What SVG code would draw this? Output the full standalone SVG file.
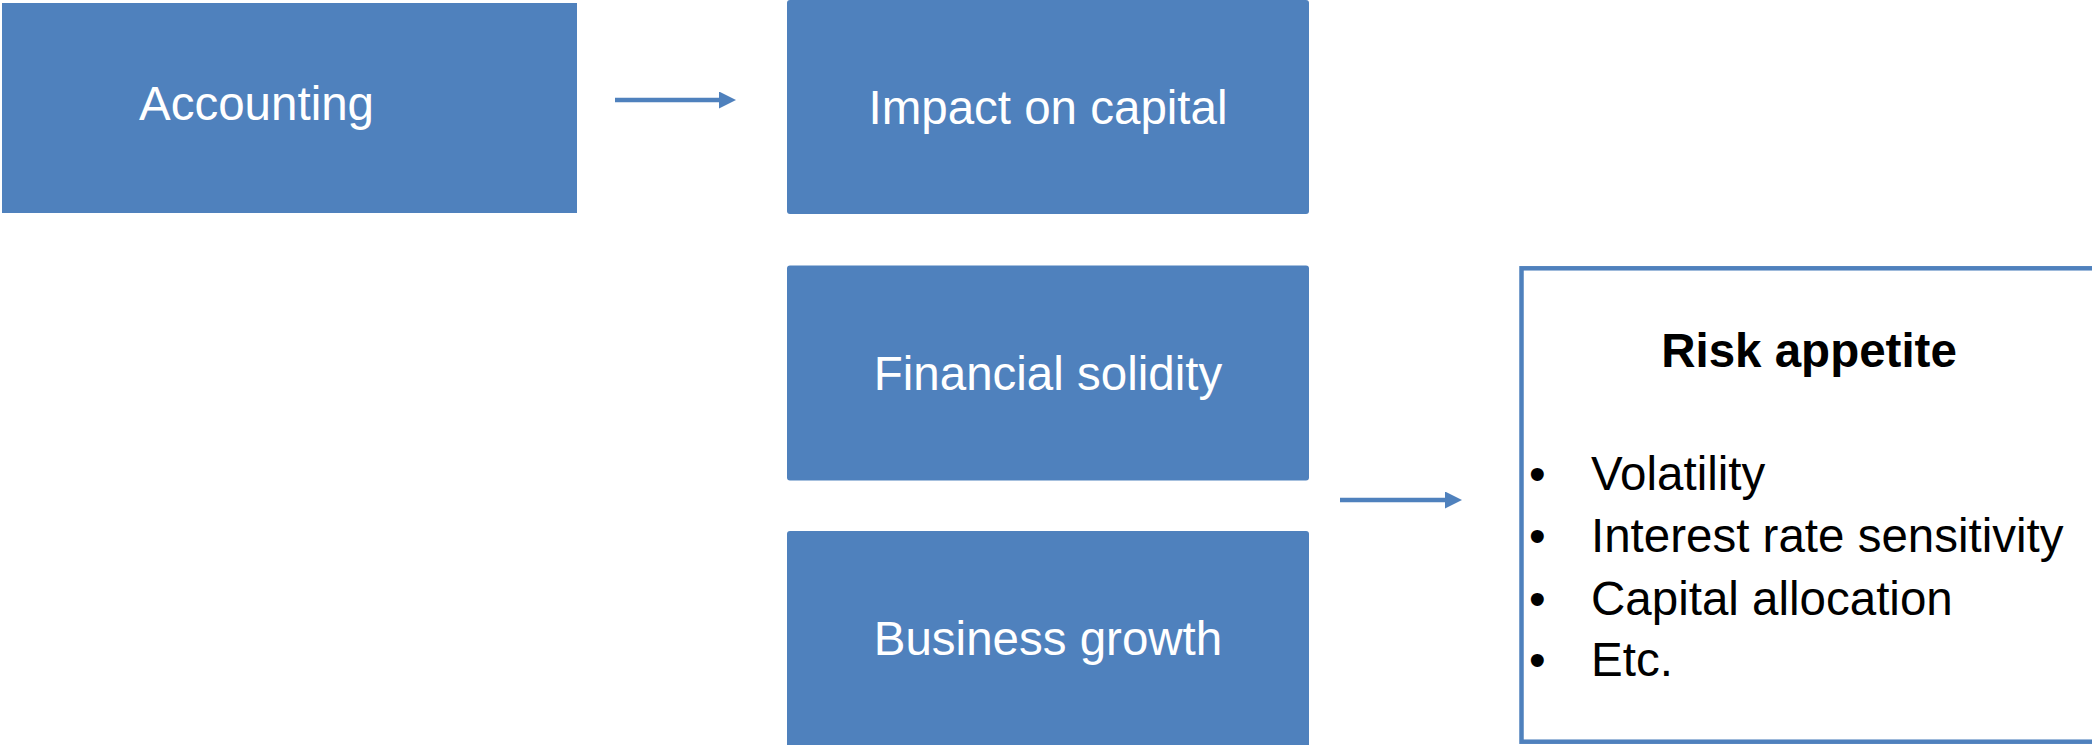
<svg xmlns="http://www.w3.org/2000/svg" width="2092" height="745" viewBox="0 0 2092 745">
  <style>
    .box { fill: #4F81BD; }
    .lbl { font-family: "Liberation Sans", Arial, sans-serif; font-size: 47.5px; fill: #FFFFFF; }
    .mid { text-anchor: middle; }
    .frame { fill: #FFFFFF; stroke: #4F81BD; stroke-width: 4.5; }
    .title { font-family: "Liberation Sans", Arial, sans-serif; font-size: 47.5px; font-weight: bold; fill: #000000; text-anchor: middle; }
    .item { font-family: "Liberation Sans", Arial, sans-serif; font-size: 47.5px; fill: #000000; }
    .link { stroke: #4F81BD; stroke-width: 4.5; fill: none; }
  </style>
  <defs>
    <marker id="head" markerUnits="userSpaceOnUse" markerWidth="18" markerHeight="18" refX="0" refY="8.5" orient="auto">
      <path d="M0,0 L17,8.5 L0,17 z" fill="#4F81BD"/>
    </marker>
  </defs>
  <rect width="2092" height="745" fill="#FFFFFF"/>

  <g id="accounting">
    <rect class="box" x="2" y="3" width="575" height="210"/>
    <text class="lbl" x="139" y="120">Accounting</text>
  </g>

  <g id="impact-on-capital">
    <rect class="box" x="787" y="0" width="522" height="214" rx="3"/>
    <text class="lbl mid" x="1048" y="124">Impact on capital</text>
  </g>

  <g id="financial-solidity">
    <rect class="box" x="787" y="265.5" width="522" height="215" rx="3"/>
    <text class="lbl mid" x="1048" y="390">Financial solidity</text>
  </g>

  <g id="business-growth">
    <rect class="box" x="787" y="531" width="522" height="218" rx="3"/>
    <text class="lbl mid" x="1048" y="655">Business growth</text>
  </g>

  <g id="risk-appetite">
    <rect class="frame" x="1521.5" y="268.3" width="580" height="473.4"/>
    <text class="title" x="1809" y="367">Risk appetite</text>
    <g class="item">
      <text x="1529" y="490">•</text>
      <text x="1591" y="490">Volatility</text>
      <text x="1529" y="552">•</text>
      <text x="1591" y="552">Interest rate sensitivity</text>
      <text x="1529" y="615">•</text>
      <text x="1591" y="615">Capital allocation</text>
      <text x="1529" y="676">•</text>
      <text x="1591" y="676">Etc.</text>
    </g>
  </g>

  <g id="connectors">
    <line class="link" x1="615" y1="100" x2="719" y2="100" marker-end="url(#head)"/>
    <line class="link" x1="1340" y1="500" x2="1445" y2="500" marker-end="url(#head)"/>
  </g>
</svg>
